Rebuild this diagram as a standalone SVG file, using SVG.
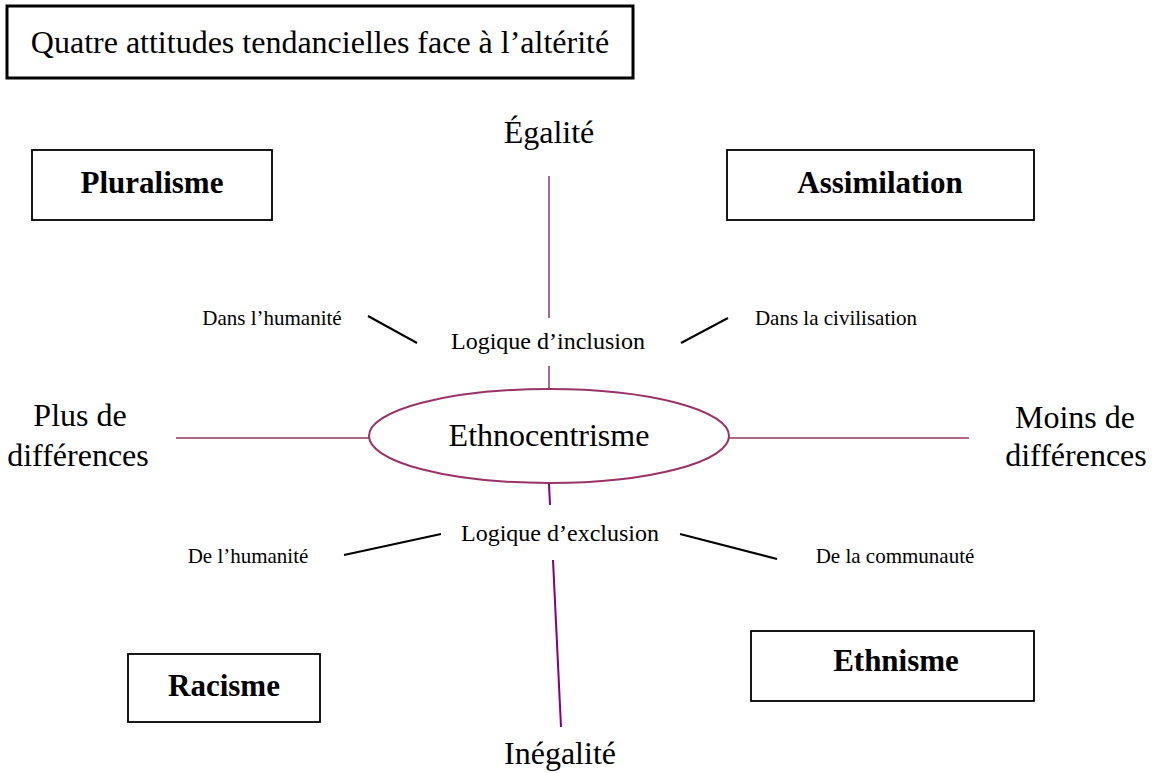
<svg xmlns="http://www.w3.org/2000/svg" width="1154" height="773" viewBox="0 0 1154 773">
<style>
text{font-family:"Liberation Serif","Times New Roman",serif;fill:#000}
.big{font-size:32px}
.mid{font-size:24px}
.sm{font-size:21px}
.bold{font-size:31px;font-weight:bold}
.box{fill:#fff;stroke:#000;stroke-width:1.8}
.pl{stroke:#993366;stroke-width:1.5;fill:none}
.pu{stroke:#800080;stroke-width:2;fill:none}
.bl{stroke:#000;stroke-width:2}
</style>
<rect width="1154" height="773" fill="#fff"/>
<g id="title">
<rect x="7" y="6" width="626" height="72" fill="#fff" stroke="#000" stroke-width="3"/>
<text x="320" y="53" class="big" text-anchor="middle">Quatre attitudes tendancielles face à l’altérité</text>
</g>
<g id="connectors">
<line class="pl" x1="549" y1="176" x2="549" y2="318"/>
<line class="pl" x1="549" y1="366" x2="549" y2="389"/>
<line class="pl" x1="176" y1="438" x2="369" y2="438"/>
<line class="pl" x1="729" y1="438" x2="969" y2="438"/>
<line class="pu" x1="549" y1="484" x2="550" y2="505"/>
<line class="pu" x1="553" y1="560" x2="561" y2="727"/>
<line class="bl" x1="368" y1="316" x2="417" y2="343"/>
<line class="bl" x1="681" y1="343" x2="728" y2="318"/>
<line class="bl" x1="344" y1="555" x2="441" y2="534"/>
<line class="bl" x1="680" y1="534" x2="777" y2="559"/>
</g>
<g id="ethnocentrisme">
<ellipse cx="549" cy="436" rx="180" ry="47" fill="#fff" stroke="#993366" stroke-width="2"/>
<text x="549" y="446" class="big" text-anchor="middle">Ethnocentrisme</text>
</g>
<g id="pluralisme">
<rect class="box" x="32" y="150" width="240" height="70"/>
<text x="152" y="193" class="bold" text-anchor="middle">Pluralisme</text>
</g>
<g id="assimilation">
<rect class="box" x="727" y="150" width="307" height="70"/>
<text x="880" y="193" class="bold" text-anchor="middle">Assimilation</text>
</g>
<g id="racisme">
<rect class="box" x="128" y="654" width="192" height="68"/>
<text x="224" y="696" class="bold" text-anchor="middle">Racisme</text>
</g>
<g id="ethnisme">
<rect class="box" x="751" y="631" width="283" height="70"/>
<text x="896" y="671" class="bold" text-anchor="middle">Ethnisme</text>
</g>
<g id="labels">
<text x="549" y="143" class="big" text-anchor="middle">Égalité</text>
<text x="560" y="764" class="big" text-anchor="middle">Inégalité</text>
<text x="80" y="426" class="big" text-anchor="middle">Plus de</text>
<text x="78" y="466" class="big" text-anchor="middle">différences</text>
<text x="1075" y="428" class="big" text-anchor="middle">Moins de</text>
<text x="1076" y="466" class="big" text-anchor="middle">différences</text>
<text x="548" y="349" class="mid" text-anchor="middle">Logique d’inclusion</text>
<text x="560" y="541" class="mid" text-anchor="middle">Logique d’exclusion</text>
<text x="272" y="325" class="sm" text-anchor="middle">Dans l’humanité</text>
<text x="836" y="325" class="sm" text-anchor="middle">Dans la civilisation</text>
<text x="248" y="563" class="sm" text-anchor="middle">De l’humanité</text>
<text x="895" y="563" class="sm" text-anchor="middle">De la communauté</text>
</g>
</svg>
